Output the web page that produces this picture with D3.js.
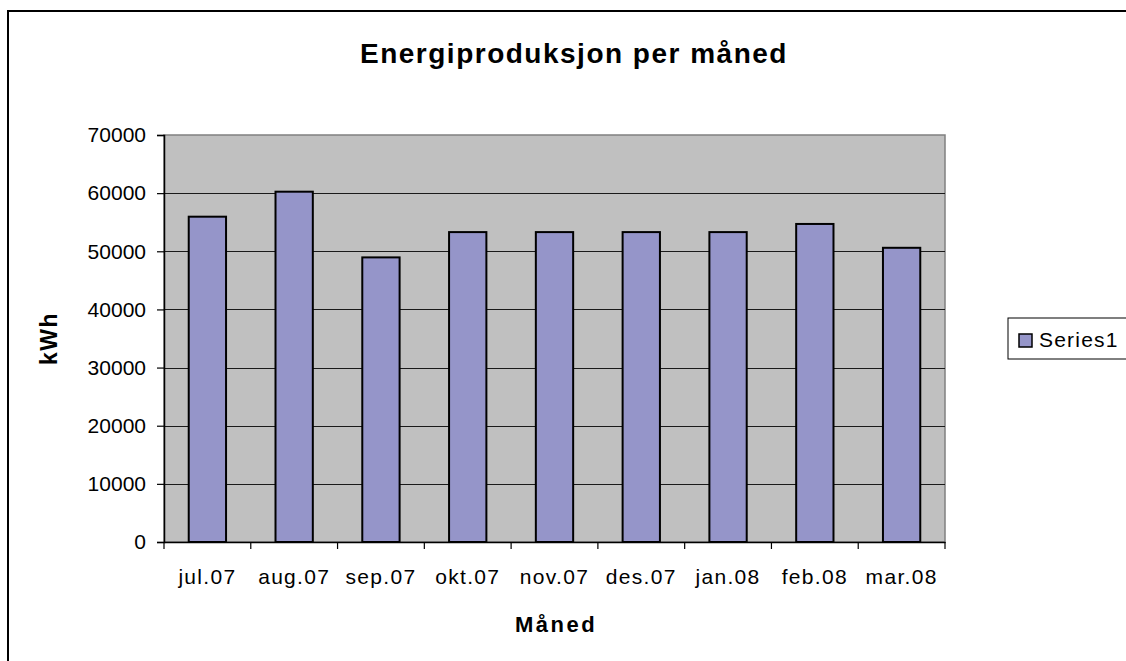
<!DOCTYPE html>
<html>
<head>
<meta charset="utf-8">
<script src="https://cdn.jsdelivr.net/npm/d3@7"></script>
<style>
  html, body { margin: 0; padding: 0; background: #fff; }
  svg { display: block; }
  text { font-family: "Liberation Sans", Arial, sans-serif; fill: #000; }
</style>
</head>
<body>
<svg id="chart" width="1126" height="661"></svg>
<script>
const months = ["jul.07", "aug.07", "sep.07", "okt.07", "nov.07", "des.07", "jan.08", "feb.08", "mar.08"];
const energy = [55950, 60250, 48950, 53300, 53300, 53300, 53300, 54700, 50600];
const yTicks = [0, 10000, 20000, 30000, 40000, 50000, 60000, 70000];
const title = "Energiproduksjon per måned";
const xTitle = "Måned";
const yTitle = "kWh";
const seriesName = "Series1";

const svg = d3.select("#chart");
const plot = { left: 164, right: 945, top: 135, bottom: 542 };

// outer chart border (extends beyond the window on right/bottom)
svg.append("rect")
  .attr("x", 8).attr("y", 11)
  .attr("width", 1200).attr("height", 700)
  .attr("fill", "#fff").attr("stroke", "#000").attr("stroke-width", 2);

const x = d3.scaleBand().domain(months).range([plot.left, plot.right]).padding(0);
const y = d3.scaleLinear().domain([0, 70000]).range([plot.bottom, plot.top]);

// plot background
svg.append("rect")
  .attr("x", plot.left).attr("y", plot.top)
  .attr("width", plot.right - plot.left).attr("height", plot.bottom - plot.top)
  .attr("fill", "#c0c0c0").attr("stroke", "#808080").attr("stroke-width", 1.5);

// gridlines
svg.append("g").selectAll("line")
  .data(yTicks.filter(d => d > 0 && d < 70000))
  .join("line")
  .attr("x1", plot.left).attr("x2", plot.right)
  .attr("y1", d => Math.round(y(d)) + 0.5).attr("y2", d => Math.round(y(d)) + 0.5)
  .attr("stroke", "#1a1a1a").attr("stroke-width", 1);

// bars
const barFrac = 0.43;
svg.append("g").selectAll("rect")
  .data(months.map((m, i) => ({ m, v: energy[i] })))
  .join("rect")
  .attr("x", d => x(d.m) + x.bandwidth() * (1 - barFrac) / 2)
  .attr("width", x.bandwidth() * barFrac)
  .attr("y", d => y(d.v))
  .attr("height", d => y(0) - y(d.v))
  .attr("fill", "#9595c9")
  .attr("stroke", "#000").attr("stroke-width", 2);

// y axis
const yAxis = svg.append("g")
  .attr("transform", `translate(${plot.left},0)`)
  .call(d3.axisLeft(y).tickValues(yTicks).tickFormat(d3.format("d")).tickSize(7).tickPadding(11));
yAxis.select(".domain").attr("stroke", "#000").attr("stroke-width", 1.5);
yAxis.selectAll(".tick line").attr("stroke", "#000").attr("stroke-width", 1.2);
yAxis.selectAll(".tick text")
  .style("font-family", '"Liberation Sans", Arial, sans-serif')
  .style("font-size", "21px").attr("fill", "#000");

// x axis
const xAxis = svg.append("g")
  .attr("transform", `translate(0,${plot.bottom})`)
  .call(d3.axisBottom(x).tickSize(0).tickPadding(27).tickSizeOuter(0));
xAxis.select(".domain").attr("stroke", "#000").attr("stroke-width", 1.5);
xAxis.selectAll(".tick text")
  .style("font-family", '"Liberation Sans", Arial, sans-serif')
  .style("font-size", "21px").style("letter-spacing", "1.3px").attr("fill", "#000");
// boundary tick marks
const bounds = months.map(m => x(m)).concat([x(months[months.length - 1]) + x.bandwidth()]);
svg.append("g").selectAll("line")
  .data(bounds)
  .join("line")
  .attr("x1", d => d).attr("x2", d => d)
  .attr("y1", plot.bottom).attr("y2", plot.bottom + 7)
  .attr("stroke", "#000").attr("stroke-width", 1.2);

// title
svg.append("text")
  .attr("x", 574).attr("y", 63)
  .attr("text-anchor", "middle")
  .style("font-size", "28px").style("font-weight", "bold").style("letter-spacing", "1.5px")
  .text(title);

// axis titles
svg.append("text")
  .attr("x", 556).attr("y", 632)
  .attr("text-anchor", "middle")
  .style("font-size", "22px").style("font-weight", "bold").style("letter-spacing", "2.5px")
  .text(xTitle);

svg.append("text")
  .attr("transform", `translate(57,${(plot.top + plot.bottom) / 2}) rotate(-90)`)
  .attr("text-anchor", "middle")
  .style("font-size", "23px").style("font-weight", "bold").style("letter-spacing", "1.5px")
  .text(yTitle);

// legend
const lg = svg.append("g");
lg.append("rect")
  .attr("x", 1008).attr("y", 318).attr("width", 200).attr("height", 41)
  .attr("fill", "#fff").attr("stroke", "#000").attr("stroke-width", 1);
lg.append("rect")
  .attr("x", 1019).attr("y", 334).attr("width", 13).attr("height", 13)
  .attr("fill", "#9595c9").attr("stroke", "#000").attr("stroke-width", 1.5);
lg.append("text")
  .attr("x", 1039).attr("y", 347)
  .style("font-size", "21px").style("letter-spacing", "1.2px")
  .text(seriesName);
</script>
</body>
</html>
